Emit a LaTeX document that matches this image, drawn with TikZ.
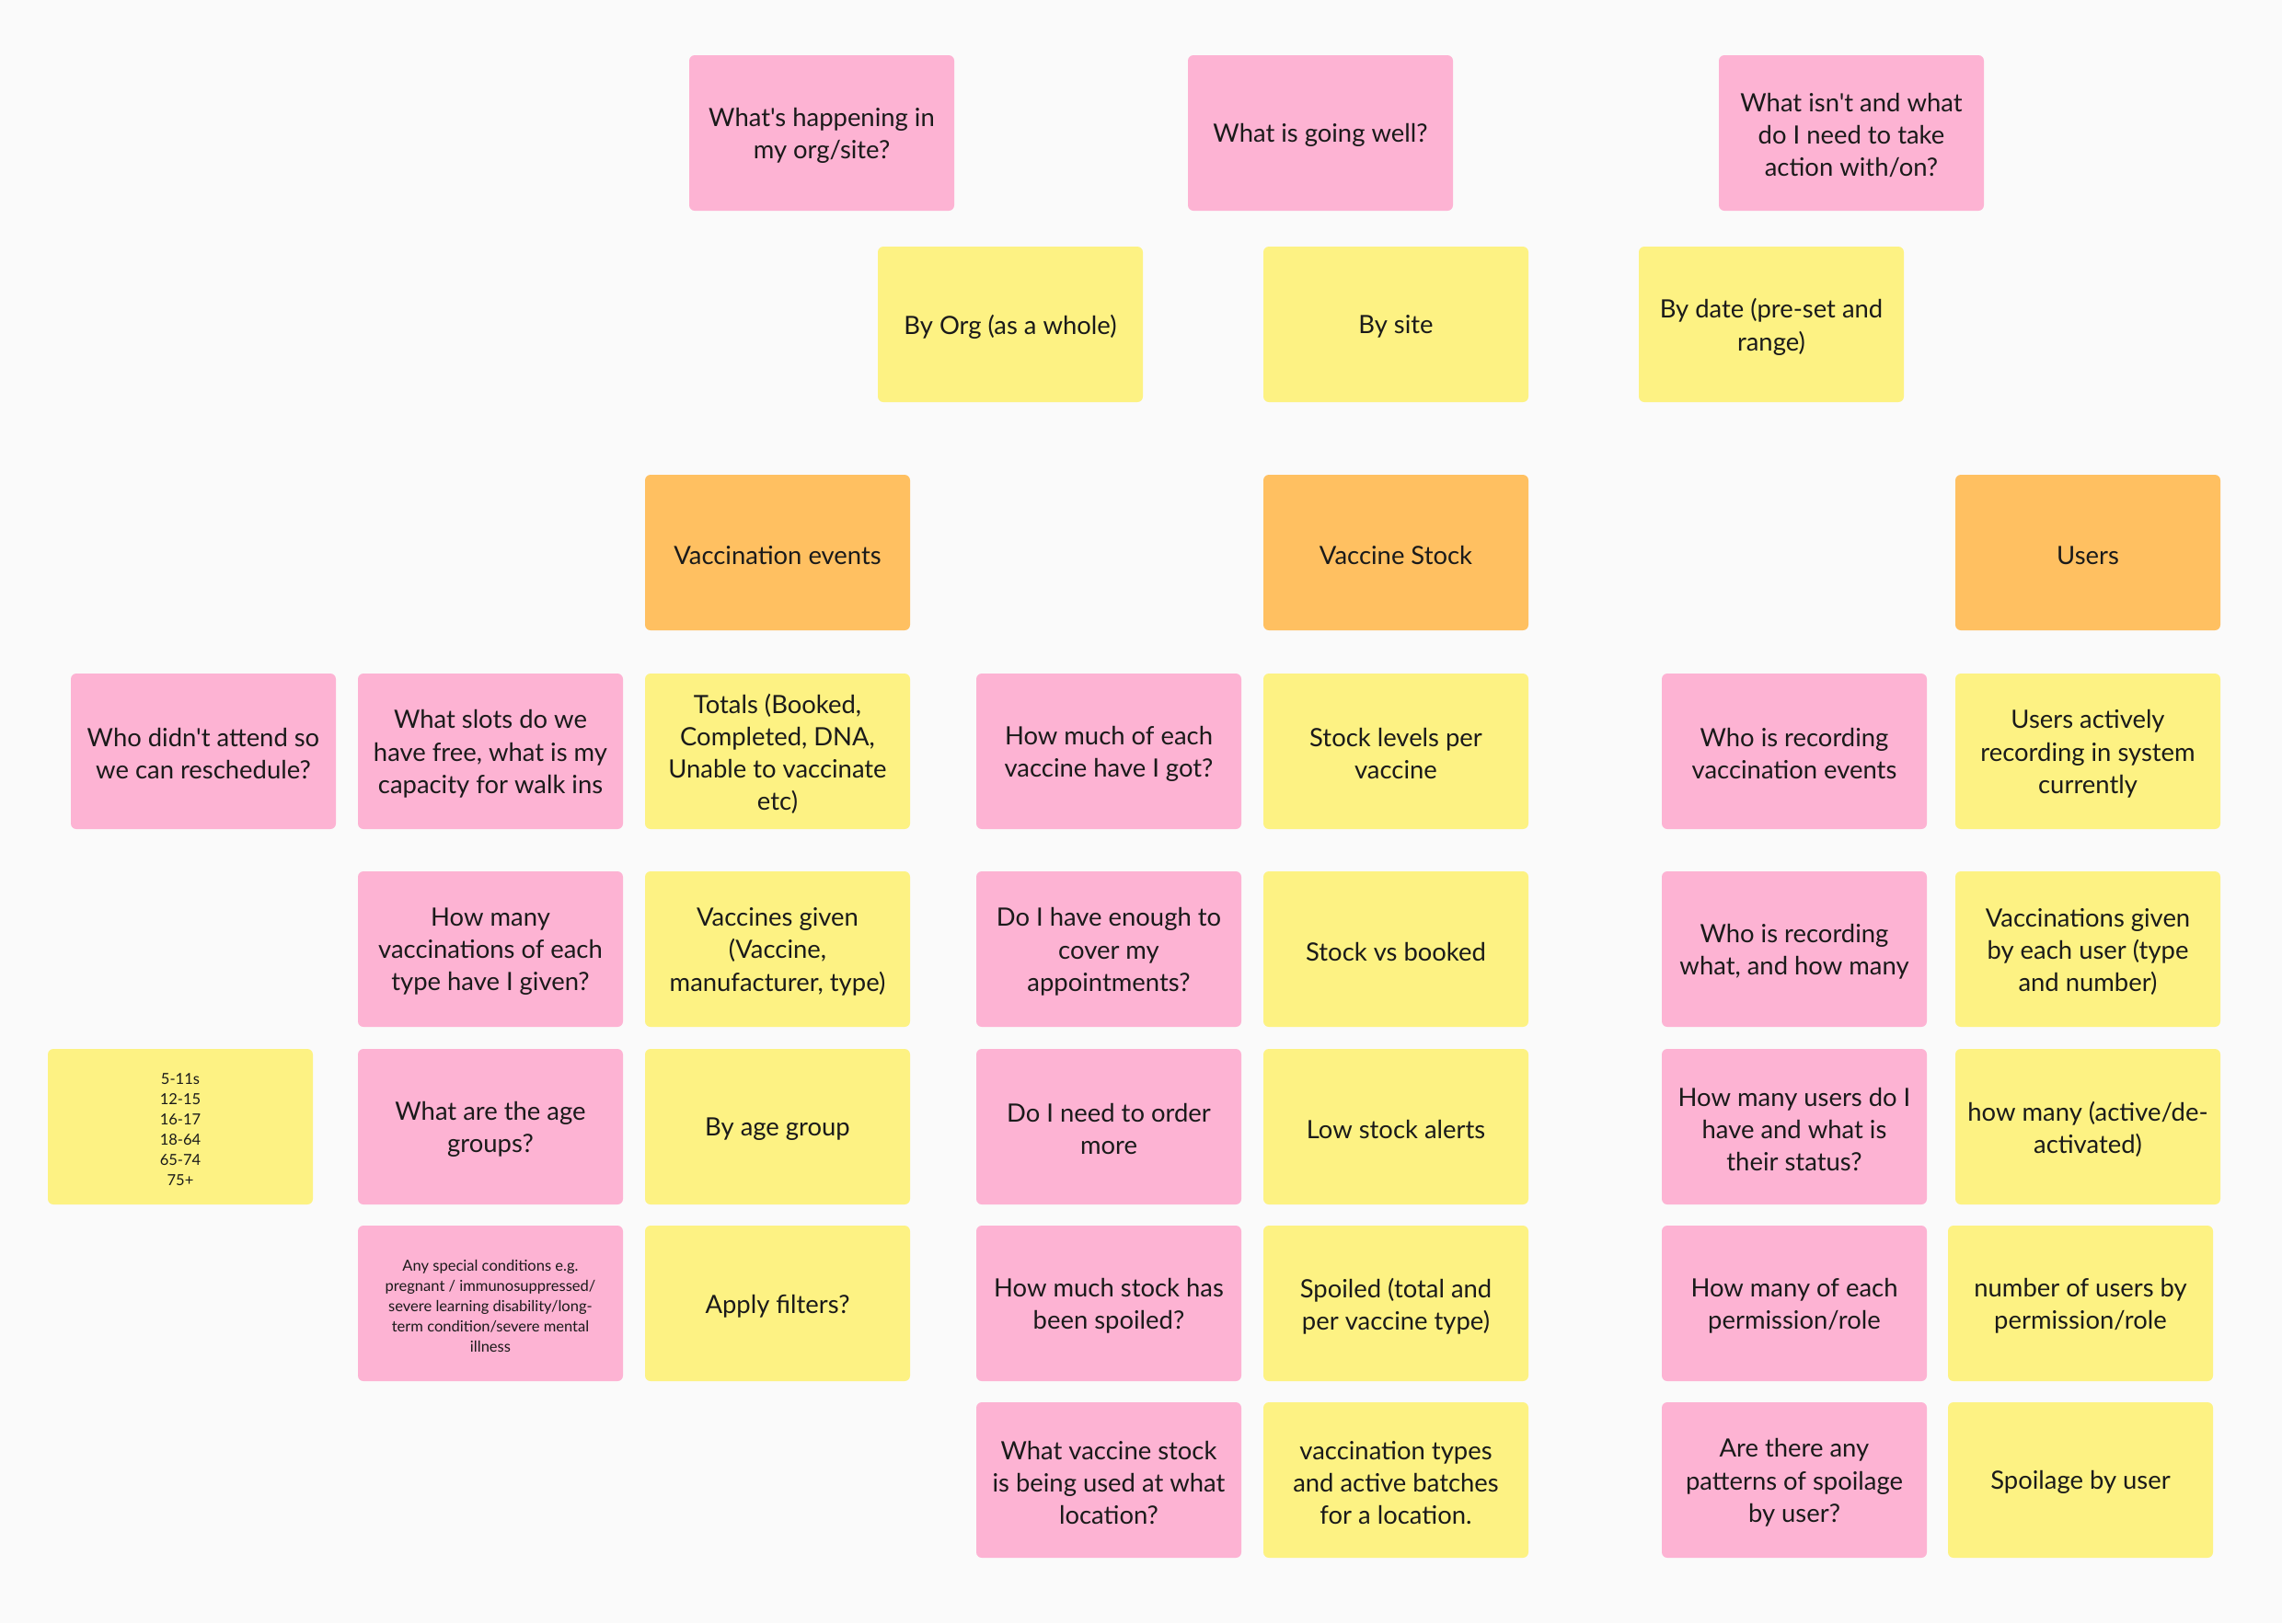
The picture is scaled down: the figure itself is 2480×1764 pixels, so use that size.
\documentclass[tikz,border=0pt]{standalone}
\usepackage{fontspec}
% a family of its own, so straight apostrophes stay straight
\newfontfamily\notefont{Lato}
\definecolor{canvas}{HTML}{FAFAFA}
\definecolor{notepink}{HTML}{FDB3D3}
\definecolor{noteyellow}{HTML}{FDF283}
\definecolor{noteorange}{HTML}{FFC061}
\definecolor{notetext}{HTML}{1A1A1A}
\tikzset{
  note/.style={rounded corners=0.6mm, minimum width=28.8mm, minimum height=16.9mm,
    inner sep=0pt},
  pinknote/.style={note, fill=notepink},
  yellownote/.style={note, fill=noteyellow},
  orangenote/.style={note, fill=noteorange},
  notewords/.style={align=center, text=notetext, inner sep=0pt, yshift=-0.8pt,
    font=\notefont\fontsize{7.8}{10}\selectfont},
  smallwords/.style={font=\notefont\fontsize{4.7}{6.26}\selectfont},
  plainwords/.style={},
}
% a sticky note given by its top-left corner (in 0.1mm units)
\newcommand\sticky[6]{\node[#2, label={[notewords,#3,name=#1text]center:{#6}}]
  (#1) at ({#4+144},{#5+84.5}) {};}
\begin{document}
\begin{tikzpicture}[x=0.1mm,y=-0.1mm]
\fill[canvas] (0,0) rectangle (2480,1764);
\useasboundingbox (0,0) rectangle (2480,1764);

% questions across the top
\sticky{qorg}{pinknote}{plainwords}{749}{60}{What's happening in\\my org/site?}
\sticky{qwell}{pinknote}{plainwords}{1291}{60}{What is going well?}
\sticky{qaction}{pinknote}{plainwords}{1868}{60}{What isn't and what\\do I need to take\\action with/on?}

% filters
\sticky{byorg}{yellownote}{plainwords}{954}{268}{By Org (as a whole)}
\sticky{bysite}{yellownote}{plainwords}{1373}{268}{By site}
\sticky{bydate}{yellownote}{plainwords}{1781}{268}{By date (pre-set and\\range)}

% themes
\sticky{vacevents}{orangenote}{plainwords}{701}{516}{Vaccination events}
\sticky{vacstock}{orangenote}{plainwords}{1373}{516}{Vaccine Stock}
\sticky{users}{orangenote}{plainwords}{2125}{516}{Users}

% vaccination events
\sticky{dna}{pinknote}{plainwords}{77}{732}{Who didn't attend so\\we can reschedule?}
\sticky{slots}{pinknote}{plainwords}{389}{732}{What slots do we\\have free, what is my\\capacity for walk ins}
\sticky{totals}{yellownote}{plainwords}{701}{732}{Totals (Booked,\\Completed, DNA,\\Unable to vaccinate\\etc)}
\sticky{howmanyvac}{pinknote}{plainwords}{389}{947}{How many\\vaccinations of each\\type have I given?}
\sticky{vacgiven}{yellownote}{plainwords}{701}{947}{Vaccines given\\(Vaccine,\\manufacturer, type)}
\sticky{agelist}{yellownote}{smallwords}{52}{1140}{5-11s\\12-15\\16-17\\18-64\\65-74\\75+}
\sticky{agegroups}{pinknote}{plainwords}{389}{1140}{What are the age\\groups?}
\sticky{byage}{yellownote}{plainwords}{701}{1140}{By age group}
\sticky{special}{pinknote}{smallwords}{389}{1332}{Any special conditions e.g.\\pregnant / immunosuppressed/\\severe learning disability/long-\\term condition/severe mental\\illness}
\sticky{filters}{yellownote}{plainwords}{701}{1332}{Apply filters?}

% vaccine stock
\sticky{howmuch}{pinknote}{plainwords}{1061}{732}{How much of each\\vaccine have I got?}
\sticky{levels}{yellownote}{plainwords}{1373}{732}{Stock levels per\\vaccine}
\sticky{enough}{pinknote}{plainwords}{1061}{947}{Do I have enough to\\cover my\\appointments?}
\sticky{vsbooked}{yellownote}{plainwords}{1373}{947}{Stock vs booked}
\sticky{order}{pinknote}{plainwords}{1061}{1140}{Do I need to order\\more}
\sticky{lowstock}{yellownote}{plainwords}{1373}{1140}{Low stock alerts}
\sticky{spoiledq}{pinknote}{plainwords}{1061}{1332}{How much stock has\\been spoiled?}
\sticky{spoiled}{yellownote}{plainwords}{1373}{1332}{Spoiled (total and\\per vaccine type)}
\sticky{locationq}{pinknote}{plainwords}{1061}{1524}{What vaccine stock\\is being used at what\\location?}
\sticky{location}{yellownote}{plainwords}{1373}{1524}{vaccination types\\and active batches\\for a location.}

% users
\sticky{whorec}{pinknote}{plainwords}{1806}{732}{Who is recording\\vaccination events}
\sticky{active}{yellownote}{plainwords}{2125}{732}{Users actively\\recording in system\\currently}
\sticky{whowhat}{pinknote}{plainwords}{1806}{947}{Who is recording\\what, and how many}
\sticky{peruser}{yellownote}{plainwords}{2125}{947}{Vaccinations given\\by each user (type\\and number)}
\sticky{status}{pinknote}{plainwords}{1806}{1140}{How many users do I\\have and what is\\their status?}
\sticky{activecount}{yellownote}{plainwords}{2125}{1140}{how many (active/de-\\activated)}
\sticky{roleq}{pinknote}{plainwords}{1806}{1332}{How many of each\\permission/role}
\sticky{roles}{yellownote}{plainwords}{2117}{1332}{number of users by\\permission/role}
\sticky{spoilq}{pinknote}{plainwords}{1806}{1524}{Are there any\\patterns of spoilage\\by user?}
\sticky{spoiluser}{yellownote}{plainwords}{2117}{1524}{Spoilage by user}
\end{tikzpicture}
\end{document}
